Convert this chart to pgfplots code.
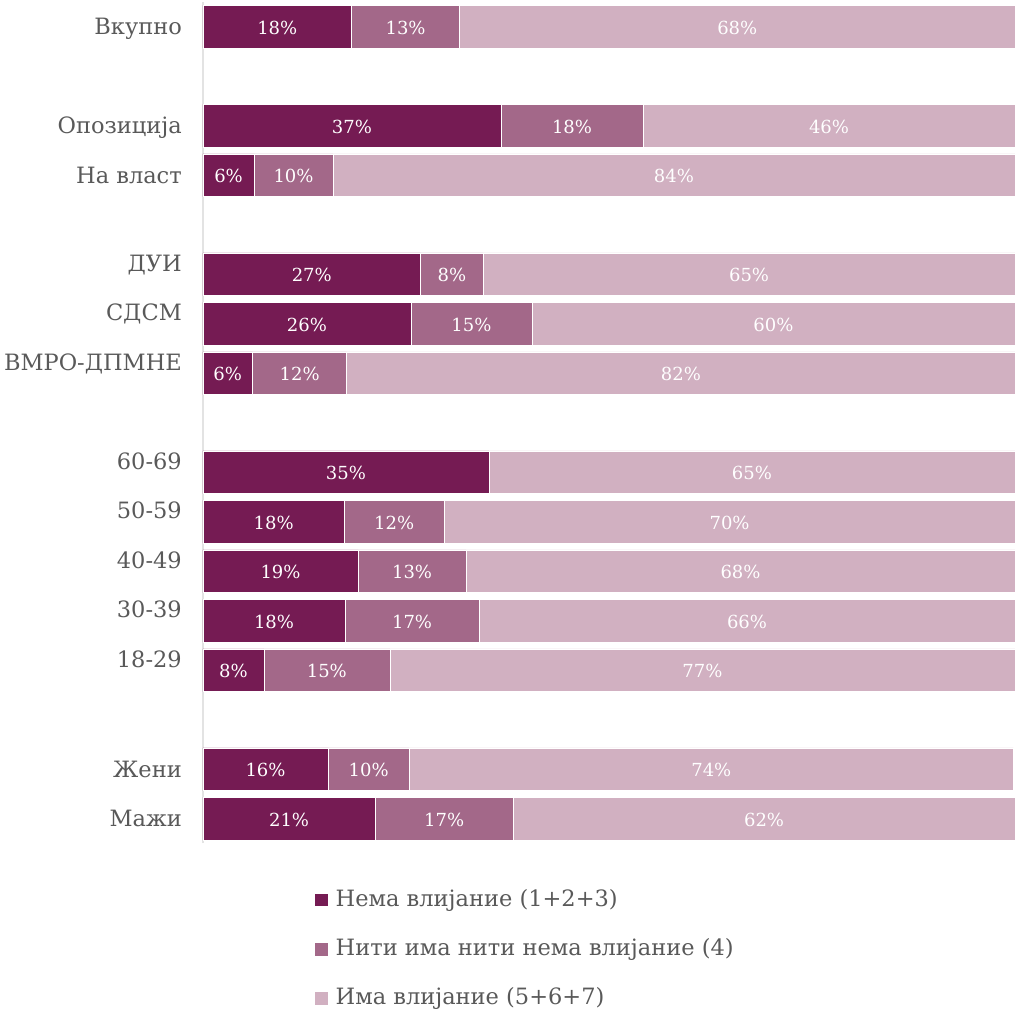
\documentclass[border=0pt]{standalone}
\usepackage{fontspec}
\setmainfont{DejaVu Serif}
\usepackage{pgfplots}
\usepackage{pgfplotstable}
\pgfplotsset{compat=1.18}
\definecolor{cA}{HTML}{751B53}
\definecolor{cB}{HTML}{A36889}
\definecolor{cC}{HTML}{D1B0C1}
\definecolor{txt}{HTML}{595959}
\definecolor{axl}{HTML}{E3E3E3}
\pgfplotstableread{
y a b c la lb lc
16 18.3 13.3 68.4 18\% 13\% 68\%
14 36.7 17.5 45.8 37\% 18\% 46\%
13 6.3 9.7 84.0 6\% 10\% 84\%
11 26.8 7.7 65.5 27\% 8\% 65\%
10 25.6 14.9 59.5 26\% 15\% 60\%
9 6.1 11.6 82.3 6\% 12\% 82\%
7 35.2 0 64.8 35\% {} 65\%
6 17.4 12.3 70.3 18\% 12\% 70\%
5 19.1 13.3 67.6 19\% 13\% 68\%
4 17.5 16.5 66.0 18\% 17\% 66\%
3 7.5 15.5 77.0 8\% 15\% 77\%
1 15.4 10.0 74.4 16\% 10\% 74\%
0 21.2 17.0 61.8 21\% 17\% 62\%
}\datatable
\begin{document}
\begin{tikzpicture}
\begin{axis}[
  at={(0,0)}, anchor=south west,
  scale only axis, width=812pt, height=841.5pt,
  xbar stacked, bar width=42.6pt,
  xmin=0, xmax=100, ymin=-0.5, ymax=16.5,
  axis x line=none,
  axis y line*=left,
  y axis line style={draw=axl, line width=1.2pt},
  ytick={16,14,13,11,10,9,7,6,5,4,3,1,0},
  yticklabels={Вкупно,Опозиција,На власт,\raisebox{11pt}{ДУИ},\raisebox{11pt}{СДСМ},\raisebox{11pt}{ВМРО-ДПМНЕ},\raisebox{11pt}{60-69},\raisebox{11pt}{50-59},\raisebox{11pt}{40-49},\raisebox{11pt}{30-39},\raisebox{11pt}{18-29},Жени,Мажи},
  major tick length=0pt,
  yticklabel style={font=\fontsize{22.5}{27}\selectfont, text=txt, inner sep=0pt, text height=16.4pt, text depth=0pt, xshift=-21pt},
  point meta=explicit symbolic,
  nodes near coords,
  every node near coord/.append style={anchor=center, text=white, font=\fontsize{18}{21}\selectfont, text height=13pt, text depth=0pt, inner sep=0pt, yshift=-0.8pt},
  legend cell align=left,
  legend style={draw=none, fill=none, inner sep=0pt, at={(rel axis cs:0,0)}, anchor=north west, xshift=112pt, yshift=-46pt, font=\fontsize{22.5}{27}\selectfont, text=txt, row sep=32.5pt, column sep=8pt, nodes={inner sep=0pt, text height=16.4pt, text depth=0pt}},
  legend image code/.code={\fill[#1, draw=none] (0pt,-8.5pt) rectangle (12.5pt,4pt);},
]
\addplot[fill=cA, draw=white, line width=0.5pt] table[x=a, y=y, meta=la] {\datatable};
\addplot[fill=cB, draw=white, line width=0.5pt] table[x=b, y=y, meta=lb] {\datatable};
\addplot[fill=cC, draw=white, line width=0.5pt] table[x=c, y=y, meta=lc] {\datatable};
\legend{Нема влијание (1+2+3), Нити има нити нема влијание (4), Има влијание (5+6+7)}
\end{axis}
\pgfresetboundingbox
\path[use as bounding box] (-203pt,-167.5pt) rectangle (812pt,843.5pt);
\end{tikzpicture}
\end{document}
